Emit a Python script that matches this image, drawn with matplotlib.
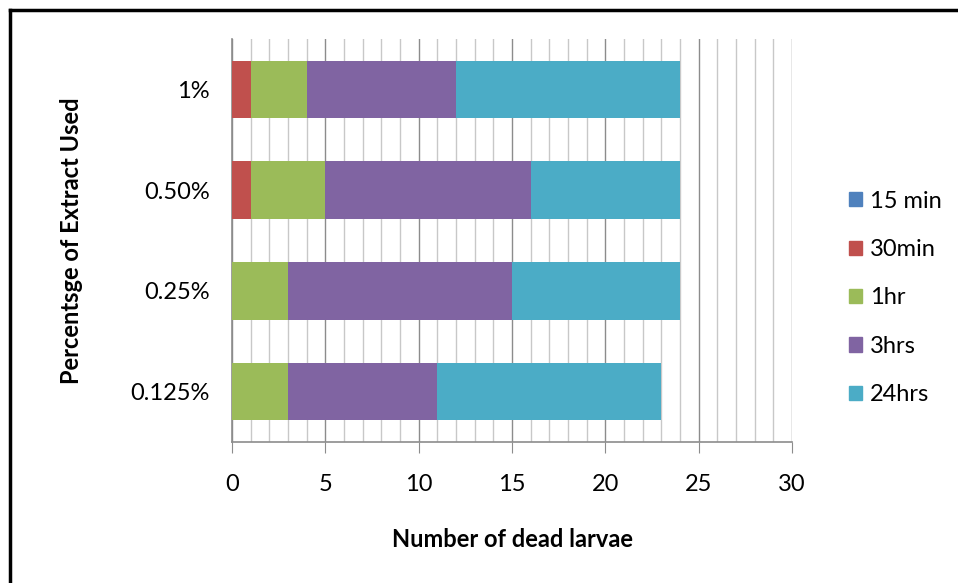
import matplotlib
matplotlib.use("Agg")
import matplotlib.pyplot as plt
from matplotlib.lines import Line2D
import numpy as np

plt.rcParams['font.family'] = ['Lato', 'DejaVu Sans']

categories = ["0.125%", "0.25%", "0.50%", "1%"]
series_names = ["15 min", "30min", "1hr", "3hrs", "24hrs"]
min15 = [0, 0, 0, 0]
min30 = [0, 0, 1, 1]
hr1 = [3, 3, 4, 3]
hrs3 = [8, 12, 11, 8]
hrs24 = [12, 9, 8, 12]
colors = ["#4F81BD", "#C0504D", "#9BBB59", "#8064A2", "#4BACC6"]

values = [min15, min30, hr1, hrs3, hrs24]

fig = plt.figure(figsize=(9.58, 5.83), dpi=100)
ax = fig.add_axes([232/958, 1 - 442/583, 560/958, (442 - 39)/583])

y = np.arange(len(categories))
left = np.zeros(len(categories))
for name, vals, col in zip(series_names, values, colors):
    vals = np.array(vals, dtype=float)
    ax.barh(y, vals, left=left, height=0.57, color=col, label=name, zorder=3)
    left += vals

ax.set_xlim(0, 30)
ax.set_ylim(-0.5, len(categories) - 0.5)
ax.set_xticks(np.arange(0, 31, 5))
ax.set_xticks(np.arange(0, 31, 1), minor=True)
ax.set_yticks(y)
ax.set_yticklabels(categories)

ax.grid(axis='x', which='minor', color='#C8C8C8', linewidth=1.0, zorder=1)
ax.grid(axis='x', which='major', color='#8C8C8C', linewidth=1.0, zorder=1)

for s in ['top', 'right']:
    ax.spines[s].set_visible(False)
ax.spines['left'].set_color('#8C8C8C')
ax.spines['bottom'].set_color('#8C8C8C')
ax.spines['left'].set_linewidth(1.2)
ax.spines['bottom'].set_linewidth(1.2)

fs = 17
ax.tick_params(axis='x', which='major', length=8, color='#8C8C8C', labelsize=fs, pad=15)
ax.tick_params(axis='x', which='minor', length=0)
ax.tick_params(axis='y', length=0, labelsize=fs, pad=16)

ax.set_xlabel("Number of dead larvae", fontsize=fs, fontweight='bold', labelpad=24)
ax.set_ylabel("Percentsge of Extract Used", fontsize=fs, fontweight='bold', labelpad=34)

handles = [plt.Rectangle((0, 0), 1, 1, color=c) for c in colors]
fig.legend(handles, series_names, loc='center left', bbox_to_anchor=(837/958, 1 - 298/583),
           frameon=False, fontsize=fs, handlelength=0.55, handleheight=0.55,
           handletextpad=0.35, labelspacing=1.16, borderpad=0)

# outer frame on the left and top edges
fig.add_artist(Line2D([10/958, 10/958], [0, 1 - 10/583], transform=fig.transFigure,
                      color='black', linewidth=2.5))
fig.add_artist(Line2D([10/958, 1], [1 - 10/583, 1 - 10/583], transform=fig.transFigure,
                      color='black', linewidth=2.5))

fig.savefig("out.png", dpi=100)
